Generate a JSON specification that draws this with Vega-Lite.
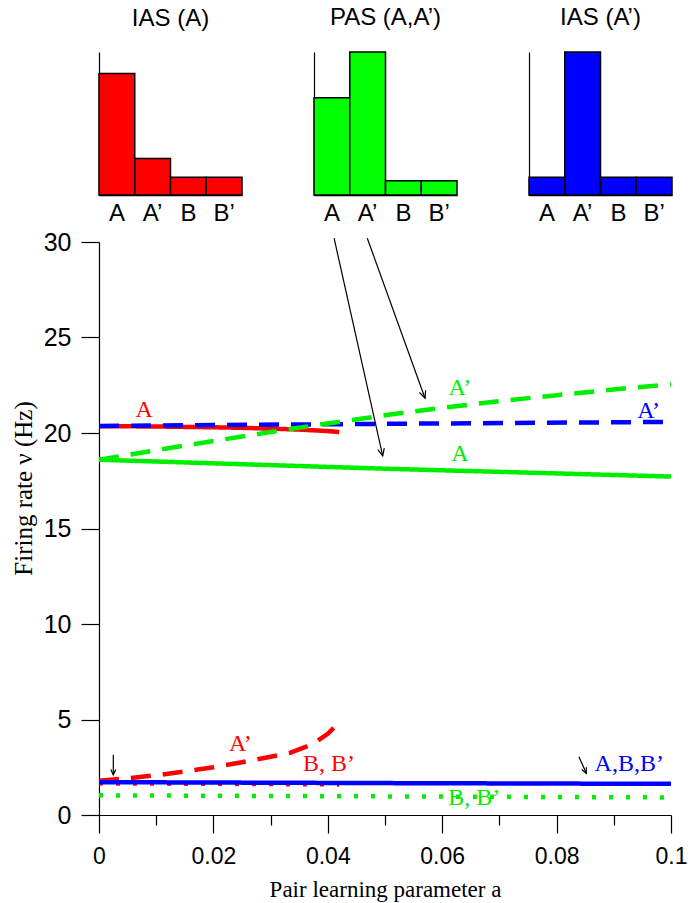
{
  "$schema": "https://vega.github.io/schema/vega-lite/v6.json",
  "background": "white",
  "padding": {"left": 11, "top": 6, "right": 10, "bottom": 4},
  "spacing": 5,
  "config": {
    "view": {"stroke": null},
    "axis": {"grid": false, "domainColor": "black", "tickColor": "black", "labelColor": "black", "titleColor": "black", "domainWidth": 1.2, "tickWidth": 1.2},
    "title": {"font": "Liberation Sans", "fontSize": 24, "fontWeight": "normal", "color": "black"}
  },
  "datasets": {
    "bars": [
      {"panel": "IAS (A)", "pop": "A", "level": 0.85},
      {"panel": "IAS (A)", "pop": "A’", "level": 0.255},
      {"panel": "IAS (A)", "pop": "B", "level": 0.124},
      {"panel": "IAS (A)", "pop": "B’", "level": 0.124},
      {"panel": "PAS (A,A’)", "pop": "A", "level": 0.68},
      {"panel": "PAS (A,A’)", "pop": "A’", "level": 1.0},
      {"panel": "PAS (A,A’)", "pop": "B", "level": 0.1},
      {"panel": "PAS (A,A’)", "pop": "B’", "level": 0.1},
      {"panel": "IAS (A’)", "pop": "A", "level": 0.124},
      {"panel": "IAS (A’)", "pop": "A’", "level": 1.0},
      {"panel": "IAS (A’)", "pop": "B", "level": 0.124},
      {"panel": "IAS (A’)", "pop": "B’", "level": 0.124}
    ],
    "curves": [
      {"state": "IAS (A)", "pop": "A", "a": 0, "v": 20.36},
      {"state": "IAS (A)", "pop": "A", "a": 0.005, "v": 20.35},
      {"state": "IAS (A)", "pop": "A", "a": 0.01, "v": 20.34},
      {"state": "IAS (A)", "pop": "A", "a": 0.015, "v": 20.32},
      {"state": "IAS (A)", "pop": "A", "a": 0.02, "v": 20.3},
      {"state": "IAS (A)", "pop": "A", "a": 0.025, "v": 20.27},
      {"state": "IAS (A)", "pop": "A", "a": 0.03, "v": 20.23},
      {"state": "IAS (A)", "pop": "A", "a": 0.035, "v": 20.18},
      {"state": "IAS (A)", "pop": "A", "a": 0.04, "v": 20.1},
      {"state": "IAS (A)", "pop": "A", "a": 0.042, "v": 20.05},
      {"state": "IAS (A)", "pop": "A’", "a": 0, "v": 1.8},
      {"state": "IAS (A)", "pop": "A’", "a": 0.005, "v": 1.92},
      {"state": "IAS (A)", "pop": "A’", "a": 0.01, "v": 2.08},
      {"state": "IAS (A)", "pop": "A’", "a": 0.015, "v": 2.28},
      {"state": "IAS (A)", "pop": "A’", "a": 0.02, "v": 2.5},
      {"state": "IAS (A)", "pop": "A’", "a": 0.025, "v": 2.76},
      {"state": "IAS (A)", "pop": "A’", "a": 0.03, "v": 3.05},
      {"state": "IAS (A)", "pop": "A’", "a": 0.0334, "v": 3.25},
      {"state": "IAS (A)", "pop": "A’", "a": 0.036, "v": 3.55},
      {"state": "IAS (A)", "pop": "A’", "a": 0.038, "v": 3.85},
      {"state": "IAS (A)", "pop": "A’", "a": 0.04, "v": 4.25},
      {"state": "IAS (A)", "pop": "A’", "a": 0.042, "v": 4.85},
      {"state": "IAS (A)", "pop": "B,B’", "a": 0, "v": 1.66},
      {"state": "IAS (A)", "pop": "B,B’", "a": 0.021, "v": 1.63},
      {"state": "IAS (A)", "pop": "B,B’", "a": 0.042, "v": 1.6},
      {"state": "IAS (A’)", "pop": "A,B,B’", "a": 0, "v": 1.72},
      {"state": "IAS (A’)", "pop": "A,B,B’", "a": 0.05, "v": 1.67},
      {"state": "IAS (A’)", "pop": "A,B,B’", "a": 0.1, "v": 1.63},
      {"state": "IAS (A’)", "pop": "A’", "a": 0, "v": 20.37},
      {"state": "IAS (A’)", "pop": "A’", "a": 0.05, "v": 20.48},
      {"state": "IAS (A’)", "pop": "A’", "a": 0.1, "v": 20.58},
      {"state": "PAS (A,A’)", "pop": "A", "a": 0, "v": 18.6},
      {"state": "PAS (A,A’)", "pop": "A", "a": 0.05, "v": 18.13},
      {"state": "PAS (A,A’)", "pop": "A", "a": 0.1, "v": 17.72},
      {"state": "PAS (A,A’)", "pop": "A’", "a": 0, "v": 18.6},
      {"state": "PAS (A,A’)", "pop": "A’", "a": 0.01, "v": 19.1},
      {"state": "PAS (A,A’)", "pop": "A’", "a": 0.02, "v": 19.58},
      {"state": "PAS (A,A’)", "pop": "A’", "a": 0.03, "v": 20.05},
      {"state": "PAS (A,A’)", "pop": "A’", "a": 0.04, "v": 20.5},
      {"state": "PAS (A,A’)", "pop": "A’", "a": 0.05, "v": 20.93},
      {"state": "PAS (A,A’)", "pop": "A’", "a": 0.06, "v": 21.32},
      {"state": "PAS (A,A’)", "pop": "A’", "a": 0.07, "v": 21.67},
      {"state": "PAS (A,A’)", "pop": "A’", "a": 0.08, "v": 21.98},
      {"state": "PAS (A,A’)", "pop": "A’", "a": 0.09, "v": 22.28},
      {"state": "PAS (A,A’)", "pop": "A’", "a": 0.1, "v": 22.55},
      {"state": "PAS (A,A’)", "pop": "B,B’", "a": 0, "v": 1.03},
      {"state": "PAS (A,A’)", "pop": "B,B’", "a": 0.1, "v": 0.92}
    ],
    "labels": [
      {"text": "A", "state": "IAS (A)", "a": 0.0079, "v": 21.2},
      {"text": "A’", "state": "PAS (A,A’)", "a": 0.0631, "v": 22.36},
      {"text": "A’", "state": "IAS (A’)", "a": 0.0961, "v": 21.15},
      {"text": "A", "state": "PAS (A,A’)", "a": 0.0631, "v": 18.9},
      {"text": "A’", "state": "IAS (A)", "a": 0.0247, "v": 3.72},
      {"text": "B, B’", "state": "IAS (A)", "a": 0.0402, "v": 2.67},
      {"text": "A,B,B’", "state": "IAS (A’)", "a": 0.0927, "v": 2.67},
      {"text": "B, B’", "state": "PAS (A,A’)", "a": 0.0656, "v": 0.89}
    ],
    "arrows": [
      {"id": 1, "a1": 0.0411, "v1": 30.2, "a2": 0.0496, "v2": 18.8},
      {"id": 2, "a1": 0.0469, "v1": 30.2, "a2": 0.057, "v2": 21.82},
      {"id": 3, "a1": 0.0025, "v1": 3.15, "a2": 0.0025, "v2": 2.1},
      {"id": 4, "a1": 0.0839, "v1": 3.05, "a2": 0.0852, "v2": 2.18}
    ]
  },
  "vconcat": [
    {
      "hconcat": [
        {
          "width": 143, "height": 143,
          "title": {"text": "IAS (A)", "baseline": "alphabetic", "offset": 2},
          "data": {"name": "bars"},
          "transform": [{"filter": "datum.panel === 'IAS (A)'"}],
          "mark": {"type": "bar", "color": "#ff0000", "stroke": "black", "strokeWidth": 1.5},
          "encoding": {
            "x": {"field": "pop", "type": "nominal", "sort": ["A", "A’", "B", "B’"], "scale": {"paddingInner": 0, "paddingOuter": 0},
                  "axis": {"title": null, "ticks": false, "tickSize": 0, "labelAngle": 0, "labelFont": "Liberation Sans", "labelFontSize": 24, "labelPadding": 6, "domainWidth": 1.5}},
            "y": {"field": "level", "type": "quantitative", "scale": {"domain": [0, 1], "nice": false},
                  "axis": {"title": null, "ticks": false, "labels": false}}
          }
        },
        {
          "width": 143, "height": 143,
          "title": {"text": "PAS (A,A’)", "baseline": "alphabetic", "offset": 2},
          "data": {"name": "bars"},
          "transform": [{"filter": "datum.panel === 'PAS (A,A’)'"}],
          "mark": {"type": "bar", "color": "#00ff00", "stroke": "black", "strokeWidth": 1.5},
          "encoding": {
            "x": {"field": "pop", "type": "nominal", "sort": ["A", "A’", "B", "B’"], "scale": {"paddingInner": 0, "paddingOuter": 0},
                  "axis": {"title": null, "ticks": false, "tickSize": 0, "labelAngle": 0, "labelFont": "Liberation Sans", "labelFontSize": 24, "labelPadding": 6, "domainWidth": 1.5}},
            "y": {"field": "level", "type": "quantitative", "scale": {"domain": [0, 1], "nice": false},
                  "axis": {"title": null, "ticks": false, "labels": false}}
          }
        },
        {
          "width": 143, "height": 143,
          "title": {"text": "IAS (A’)", "baseline": "alphabetic", "offset": 2},
          "data": {"name": "bars"},
          "transform": [{"filter": "datum.panel === 'IAS (A’)'"}],
          "mark": {"type": "bar", "color": "#0000ff", "stroke": "black", "strokeWidth": 1.5},
          "encoding": {
            "x": {"field": "pop", "type": "nominal", "sort": ["A", "A’", "B", "B’"], "scale": {"paddingInner": 0, "paddingOuter": 0},
                  "axis": {"title": null, "ticks": false, "tickSize": 0, "labelAngle": 0, "labelFont": "Liberation Sans", "labelFontSize": 24, "labelPadding": 6, "domainWidth": 1.5}},
            "y": {"field": "level", "type": "quantitative", "scale": {"domain": [0, 1], "nice": false},
                  "axis": {"title": null, "ticks": false, "labels": false}}
          }
        }
      ],
      "spacing": 72,
      "bounds": "flush"
    },
    {
      "width": 572,
      "height": 573,
      "layer": [
        {
          "data": {"name": "curves"},
          "transform": [{"filter": "datum.state === 'IAS (A)'"}],
          "mark": {"type": "line", "strokeWidth": 4.5, "strokeCap": "butt"},
          "encoding": {
            "x": {"field": "a", "type": "quantitative", "scale": {"domain": [0, 0.1], "nice": false},
                  "axis": {"values": [0, 0.01, 0.02, 0.03, 0.04, 0.05, 0.06, 0.07, 0.08, 0.09, 0.1],
                           "labelExpr": "round(datum.value*100) % 2 === 0 ? format(datum.value, '~g') : ''",
                           "tickSize": {"condition": {"test": "round(datum.value*100) % 2 === 0", "value": 18}, "value": 10},
                           "labelFont": "Liberation Sans", "labelFontSize": 23, "labelPadding": 12, "labelFlush": false, "labelOverlap": false,
                           "title": "Pair learning parameter a", "titleFont": "Liberation Serif", "titleFontSize": 23, "titleFontWeight": "normal", "titlePadding": 10}},
            "y": {"field": "v", "type": "quantitative", "scale": {"domain": [0, 30], "nice": false},
                  "axis": {"values": [0, 5, 10, 15, 20, 25, 30], "tickSize": 18, "labelFont": "Liberation Sans", "labelFontSize": 25, "labelPadding": 10,
                           "title": "Firing rate ν (Hz)", "titleFont": "Liberation Serif", "titleFontSize": 25, "titleFontWeight": "normal",
                           "titleX": -76, "titleY": 246, "titleBaseline": "middle", "titleAngle": -90}},
            "color": {"field": "state", "type": "nominal", "scale": {"domain": ["IAS (A)", "PAS (A,A’)", "IAS (A’)"], "range": ["#ff0000", "#00ee00", "#0000ff"]}, "legend": null},
            "strokeDash": {"field": "pop", "type": "nominal", "scale": {"domain": ["A", "A’", "B,B’", "A,B,B’"], "range": [[1, 0], [20, 12], [4, 13], [1, 0]]}, "legend": null},
            "detail": {"field": "pop"}
          }
        },
        {
          "data": {"name": "curves"},
          "transform": [{"filter": "datum.state === 'IAS (A’)'"}],
          "mark": {"type": "line", "strokeWidth": 4.5, "strokeCap": "butt"},
          "encoding": {
            "x": {"field": "a", "type": "quantitative"},
            "y": {"field": "v", "type": "quantitative"},
            "color": {"field": "state", "type": "nominal", "legend": null},
            "strokeDash": {"field": "pop", "type": "nominal", "legend": null},
            "detail": {"field": "pop"}
          }
        },
        {
          "data": {"name": "curves"},
          "transform": [{"filter": "datum.state === 'PAS (A,A’)'"}],
          "mark": {"type": "line", "strokeWidth": 4.5, "strokeCap": "butt"},
          "encoding": {
            "x": {"field": "a", "type": "quantitative"},
            "y": {"field": "v", "type": "quantitative"},
            "color": {"field": "state", "type": "nominal", "legend": null},
            "strokeDash": {"field": "pop", "type": "nominal", "legend": null},
            "detail": {"field": "pop"}
          }
        },
        {
          "data": {"name": "arrows"},
          "mark": {"type": "rule", "color": "black", "strokeWidth": 1.2},
          "encoding": {
            "x": {"field": "a1", "type": "quantitative"},
            "y": {"field": "v1", "type": "quantitative"},
            "x2": {"field": "a2"},
            "y2": {"field": "v2"}
          }
        },
        {
          "data": {"name": "arrows"},
          "transform": [{"filter": "datum.id === 1"}],
          "mark": {"type": "point", "shape": "M-0.45,-1L0,0L0.45,-1", "filled": false, "stroke": "black", "strokeWidth": 1.2, "size": 213, "angle": 347, "opacity": 1},
          "encoding": {"x": {"field": "a2", "type": "quantitative"}, "y": {"field": "v2", "type": "quantitative"}}
        },
        {
          "data": {"name": "arrows"},
          "transform": [{"filter": "datum.id === 2"}],
          "mark": {"type": "point", "shape": "M-0.45,-1L0,0L0.45,-1", "filled": false, "stroke": "black", "strokeWidth": 1.2, "size": 213, "angle": 340, "opacity": 1},
          "encoding": {"x": {"field": "a2", "type": "quantitative"}, "y": {"field": "v2", "type": "quantitative"}}
        },
        {
          "data": {"name": "arrows"},
          "transform": [{"filter": "datum.id === 3"}],
          "mark": {"type": "point", "shape": "M-0.45,-1L0,0L0.45,-1", "filled": false, "stroke": "black", "strokeWidth": 1.2, "size": 121, "angle": 0, "opacity": 1},
          "encoding": {"x": {"field": "a2", "type": "quantitative"}, "y": {"field": "v2", "type": "quantitative"}}
        },
        {
          "data": {"name": "arrows"},
          "transform": [{"filter": "datum.id === 4"}],
          "mark": {"type": "point", "shape": "M-0.45,-1L0,0L0.45,-1", "filled": false, "stroke": "black", "strokeWidth": 1.2, "size": 121, "angle": 335, "opacity": 1},
          "encoding": {"x": {"field": "a2", "type": "quantitative"}, "y": {"field": "v2", "type": "quantitative"}}
        },
        {
          "data": {"name": "labels"},
          "mark": {"type": "text", "font": "Liberation Serif", "fontSize": 24, "align": "center", "baseline": "middle"},
          "encoding": {
            "x": {"field": "a", "type": "quantitative"},
            "y": {"field": "v", "type": "quantitative"},
            "text": {"field": "text"},
            "color": {"field": "state", "type": "nominal", "legend": null}
          }
        }
      ]
    }
  ]
}
